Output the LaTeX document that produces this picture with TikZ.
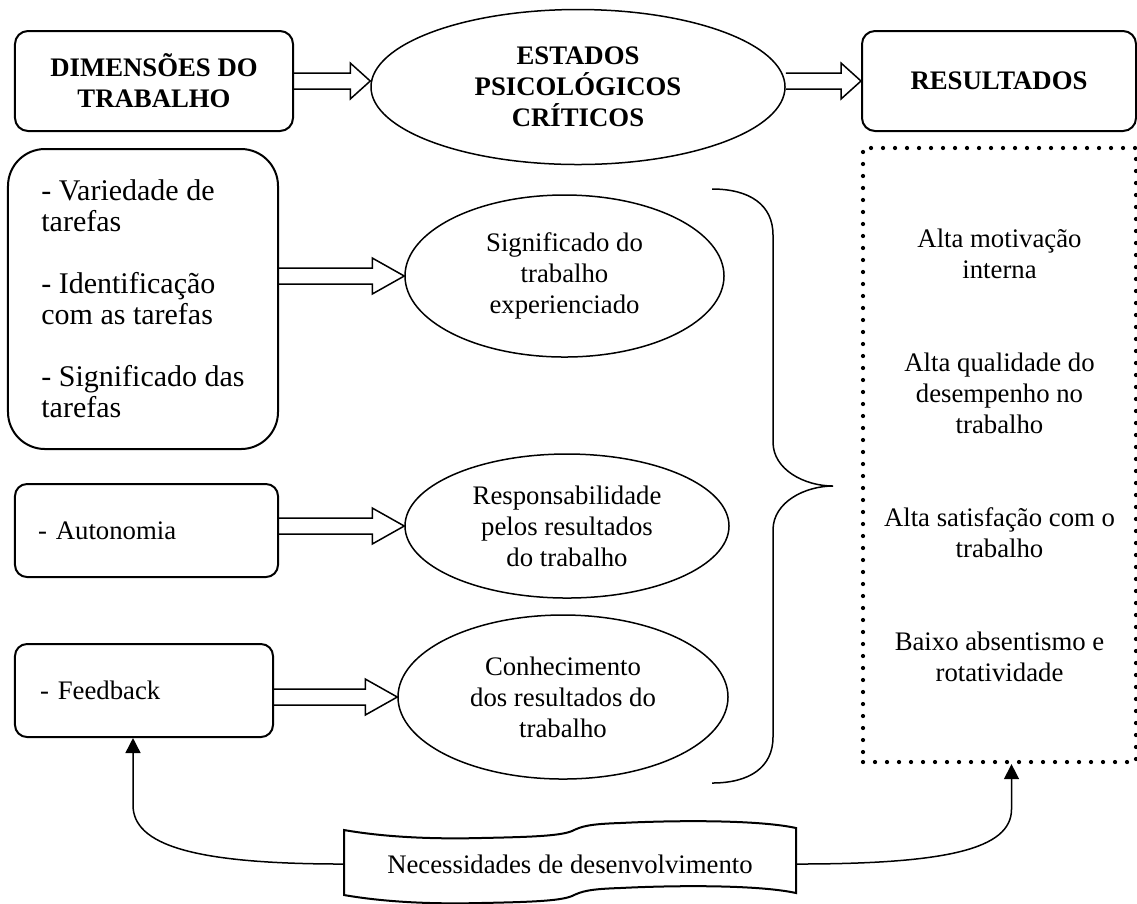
\documentclass[tikz,border=0pt]{standalone}
\usepackage{fontspec}
\setmainfont{Liberation Serif}
\usetikzlibrary{shapes.geometric,calc,arrows.meta}

\newcommand{\txt}{\fontsize{10.7}{12.4}\selectfont}
% hollow block arrow: [head length]{start}{tip}
\newcommand{\blockarrow}[3][32]{%
  \draw[blockline] ($(#2)+(0,-8)$) -- ($(#3)+(-#1,-8)$) -- ($(#3)+(-#1,-18)$)
    -- (#3) -- ($(#3)+(-#1,18)$) -- ($(#3)+(-#1,8)$) -- ($(#2)+(0,8)$);}

\begin{document}
\begin{tikzpicture}
        [x=0.4pt,y=-0.4pt,every node/.style={font=\txt},
         box/.style={draw,line width=0.8pt,rounded corners=5.2pt,align=center},
         oval/.style={draw,ellipse,line width=0.6pt,inner sep=0pt,align=center},
         blockline/.style={line width=0.6pt,line join=miter},
         brc/.style={line width=0.6pt},
         tape/.style={line width=0.8pt},
         dotbox/.style={draw,line width=1.7pt,line cap=round,dash pattern=on 0pt off 4.8pt},
         fb/.style={line width=0.6pt,-{Triangle[length=6pt,width=6pt]}}]
        \useasboundingbox (0,0) rectangle (1137,903);

        \node[box,font=\txt\bfseries,minimum width=111.2pt,minimum height=40pt] (dim) at (154,81) {DIMENSÕES DO\\TRABALHO};
        \node[oval,font=\txt\bfseries,minimum width=165.6pt,minimum height=62pt] (est) at (578,87) {ESTADOS\\PSICOLÓGICOS\\CRÍTICOS};
        \node[box,font=\txt\bfseries,minimum width=109.6pt,minimum height=40pt] (res) at (999,81) {RESULTADOS};

        \node[box,rounded corners=14.8pt,align=left,font=\fontsize{12}{12.4}\selectfont,
              minimum width=108pt,minimum height=120pt] (v1) at (143,299)
              {- Variedade de\\tarefas\\[12.4pt]- Identificação\\com as tarefas\\[12.4pt]- Significado das\\tarefas};
        \node[box,align=left,text width=86.8pt,inner xsep=9.2pt,minimum height=37.2pt,rounded corners=4.8pt] (v2) at (146.5,530.5) {- Autonomia};
        \node[box,align=left,text width=83.2pt,inner xsep=10pt,minimum height=37.2pt,rounded corners=4.8pt] (v3) at (144,690.5) {- Feedback};

        \node[oval,minimum width=127.6pt,minimum height=64.8pt] (s1) at (564.5,276) {Significado do\\trabalho\\experienciado};
        \node[oval,minimum width=129.6pt,minimum height=57.6pt] (s2) at (567,526) {Responsabilidade\\pelos resultados\\do trabalho};
        \node[oval,minimum width=132pt,minimum height=65.6pt] (s3) at (563,697) {Conhecimento\\dos resultados do\\trabalho};

        \node[dotbox,minimum width=109.2pt,minimum height=245.6pt,align=center] (out) at (999.5,455)
              {Alta motivação\\interna\\[24.8pt]Alta qualidade do\\desempenho no\\trabalho\\[24.8pt]Alta satisfação com o\\trabalho\\[24.8pt]Baixo absentismo e\\rotatividade};

        \node[minimum width=180.8pt,minimum height=27.2pt] (nec) at (570,864) {Necessidades de desenvolvimento};
        \draw[tape] (344,830) .. controls (390,838) and (440,839) .. (480,838)
              .. controls (530,837) and (560,836) .. (572,831)
              .. controls (582,826) and (590,824) .. (620,823)
              .. controls (680,820) and (760,820) .. (796,828) -- (796,893)
              .. controls (760,885) and (680,885) .. (620,888)
              .. controls (590,889) and (582,891) .. (572,896)
              .. controls (560,901) and (530,902) .. (480,903)
              .. controls (440,904) and (390,903) .. (344,895) -- cycle;

        \blockarrow[20]{dim.east}{est.west |- dim.east}
        \blockarrow[20]{est.east |- res.west}{res.west}
        \foreach \from/\to in {v1/s1, v2/s2, v3/s3}
            {\blockarrow{\from.east |- \to.west}{\to.west}}

        \draw[brc] (712,189) .. controls (750,189) and (773,205) .. (773,235) -- (773,442)
              .. controls (773,470) and (805,486) .. (833,486)
              .. controls (805,486) and (773,502) .. (773,530) -- (773,737)
              .. controls (773,767) and (750,783) .. (712,783);

        \draw[fb] (nec.west) .. controls +(-150,0) and +(0,40) .. ([shift={(-11,67)}]v3.south) -- ([xshift=-4.4pt]v3.south);
        \draw[fb] (nec.east) .. controls +(150,0) and +(0,40) .. ([shift={(12,45)}]out.south) -- ([xshift=4.8pt]out.south);

\end{tikzpicture}
\end{document}
